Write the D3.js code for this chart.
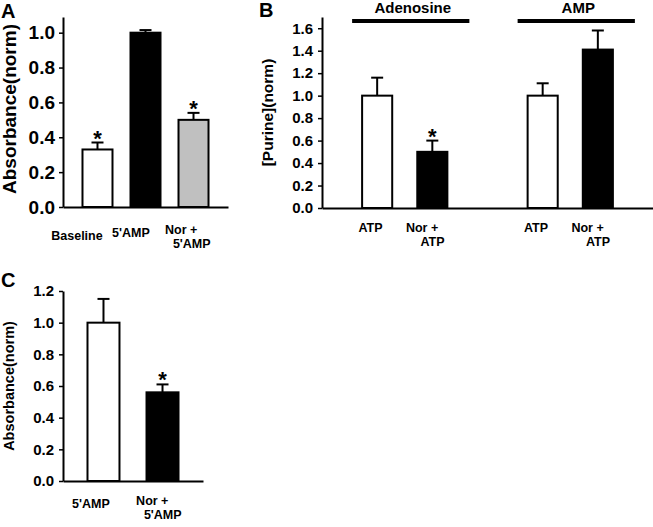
<!DOCTYPE html>
<html>
<head>
<meta charset="utf-8">
<script src="https://cdn.jsdelivr.net/npm/d3@7"></script>
<style>
  html, body { margin: 0; padding: 0; background: #fff; }
  svg { display: block; }
  text { font-family: "Liberation Sans", Arial, Helvetica, sans-serif; font-weight: bold; fill: #000; }
</style>
</head>
<body>
<svg id="chart" width="653" height="527"></svg>
<script>
// ---------- data ----------
const catsA = ["Baseline", "5'AMP", "Nor +\n5'AMP"];
const valsA = [0.33, 1.0, 0.50];
const errA  = [0.04, 0.015, 0.04];
const starA = [true, false, true];
const ticksA = [0, 0.2, 0.4, 0.6, 0.8, 1.0];

const catsB   = ["ATP", "Nor +\nATP", "ATP", "Nor +\nATP"];
const groupsB = ["Adenosine", "Adenosine", "AMP", "AMP"];
const valsB   = [1.0, 0.50, 1.0, 1.41];
const errB    = [0.16, 0.10, 0.11, 0.17];
const starB   = [false, true, false, false];
const ticksB  = [0, 0.2, 0.4, 0.6, 0.8, 1.0, 1.2, 1.4, 1.6];

const catsC = ["5'AMP", "Nor +\n5'AMP"];
const valsC = [1.0, 0.56];
const errC  = [0.15, 0.05];
const starC = [false, true];
const ticksC = [0, 0.2, 0.4, 0.6, 0.8, 1.0, 1.2];

const fillsA = ["#ffffff", "#000000", "#c0c0c0"];
const fillsB = ["#ffffff", "#000000", "#ffffff", "#000000"];
const fillsC = ["#ffffff", "#000000"];

const svg = d3.select("#chart");
const COS = Math.cos(30 * Math.PI / 180), SIN = Math.sin(30 * Math.PI / 180);
const LFS = 12.5;
// rotate an offset by -30 degrees (the slant of the labels in the original)
const R = (ox, oy) => [COS * ox + SIN * oy, -SIN * ox + COS * oy];

function measure(g, str) {
  const t = g.append("text").style("font-size", LFS + "px").attr("opacity", 0).text(str);
  const w = t.node().getComputedTextLength();
  t.remove();
  return w;
}

function panel(opt) {
  const g = svg.append("g");
  const keys = opt.keys;
  const x = d3.scaleBand().domain(keys).range(opt.xr)
      .paddingInner(opt.pi).paddingOuter(opt.po);
  const y = d3.scaleLinear().domain(opt.yd).range(opt.yr);

  const yAx = d3.axisLeft(y).tickValues(opt.ticks).tickFormat(d3.format(".1f"))
      .tickSizeInner(4).tickSizeOuter(0).tickPadding(opt.tp);
  const ya = g.append("g").attr("transform", `translate(${opt.xr[0]},0)`).call(yAx);
  ya.select(".domain").attr("stroke", "#000").attr("stroke-width", 2);
  ya.selectAll(".tick line").attr("stroke", "#000").attr("stroke-width", 1.5);
  ya.selectAll(".tick text").style("font-size", opt.tfs + "px")
      .style("font-family", '"Liberation Sans", Arial, sans-serif').style("font-weight", "bold");

  const realKeys = keys.filter(k => k !== "gap");
  const data = opt.vals.map((v, i) => ({k: realKeys[i], v, e: opt.err[i], s: opt.star[i], c: opt.cats[i], f: opt.fills[i]}));

  // upper error bars + significance stars
  const eb = g.append("g");
  data.forEach(d => {
    const cx = x(d.k) + x.bandwidth() / 2;
    eb.append("line").attr("x1", cx).attr("x2", cx)
      .attr("y1", y(d.v)).attr("y2", y(d.v + d.e)).attr("stroke", "#000").attr("stroke-width", 2);
    eb.append("line").attr("x1", cx - 6).attr("x2", cx + 6)
      .attr("y1", y(d.v + d.e)).attr("y2", y(d.v + d.e)).attr("stroke", "#000").attr("stroke-width", 2);
    if (d.s) {
      eb.append("text").attr("x", cx).attr("y", y(d.v + d.e) + 3)
        .attr("text-anchor", "middle").style("font-size", "22px").text("*");
    }
  });

  // bars
  g.append("g").selectAll("rect").data(data).join("rect")
    .attr("x", d => x(d.k)).attr("width", x.bandwidth())
    .attr("y", d => y(d.v)).attr("height", d => y(0) - y(d.v))
    .attr("fill", d => d.f).attr("stroke", "#000").attr("stroke-width", 2);

  // x axis baseline (no ticks)
  const xAx = d3.axisBottom(x).tickSize(0).tickFormat("");
  const xa = g.append("g").attr("transform", `translate(0,${y(0)})`).call(xAx);
  xa.select(".domain").attr("stroke", "#000").attr("stroke-width", 2);

  // category labels, placed where the slanted originals sit
  const capH = 0.72 * LFS;
  data.forEach(d => {
    const cx = x(d.k) + x.bandwidth() / 2;
    const lines = d.c.split("\n");
    const px = cx + opt.lx, py = y(0) + opt.ly;
    if (lines.length === 1) {
      const W = measure(g, lines[0]);
      const [ox, oy] = R(-W / 2, -capH / 2);
      g.append("text").attr("text-anchor", "middle").style("font-size", LFS + "px")
        .attr("x", px + ox).attr("y", py + oy + capH / 2).text(lines[0]);
    } else {
      const w0 = measure(g, lines[0]);
      const offs = [[-w0 / 2, 0], [-w0 / 2 + 4, 14]];
      const centers = offs.map(([a, b]) => {
        const [qx, qy] = R(a, b);
        const [hx, hy] = R(0, -capH / 2);
        return [px + qx + hx, py + qy + hy];
      });
      const bcy = (centers[0][1] + centers[1][1]) / 2;
      lines.forEach((ln, i) => {
        g.append("text").attr("text-anchor", "middle").style("font-size", LFS + "px")
          .attr("x", centers[i][0]).attr("y", bcy + (i - 0.5) * 14 + capH / 2).text(ln);
      });
    }
  });

  // y title
  const ymid = (opt.yr[0] + opt.yr[1]) / 2;
  g.append("text").attr("transform", `translate(${opt.tx},${opt.ty !== undefined ? opt.ty : ymid}) rotate(-90)`)
    .attr("text-anchor", "middle").style("font-size", opt.ttfs + "px").text(opt.title);

  // panel letter
  g.append("text").attr("x", opt.px).attr("y", opt.py).style("font-size", "20px").text(opt.letter);

  return {g, x, y, data};
}

panel({
  keys: catsA.map((c, i) => "a" + i), cats: catsA, vals: valsA, err: errA, star: starA, fills: fillsA,
  xr: [63, 228], pi: 0.375, po: 0.406, yd: [0, 1.09], yr: [207, 17], ticks: ticksA,
  tfs: 19, tp: 4, ttfs: 19,
  lx: 4, ly: 20, title: "Absorbance(norm)", tx: 16, ty: 109, letter: "A", px: 1, py: 18
});

const keysB = ["b0", "b1", "gap", "b2", "b3"];
const pB = panel({
  keys: keysB, cats: catsB, vals: valsB, err: errB, star: starB, fills: fillsB,
  xr: [322, 653], pi: 0.4545, po: 0.727, yd: [0, 1.70], yr: [208, 17], ticks: ticksB,
  tfs: 15, tp: 5, ttfs: 15.5,
  lx: 6, ly: 17, title: "[Purine](norm)", tx: 273, letter: "B", px: 259, py: 17
});

// group bars above panel B
const groupNames = Array.from(new Set(groupsB));
groupNames.forEach(gn => {
  const members = pB.data.filter((d, i) => groupsB[i] === gn);
  const x1 = pB.x(members[0].k) - 10;
  const x2 = pB.x(members[members.length - 1].k) + pB.x.bandwidth() + 22;
  pB.g.append("line").attr("x1", x1).attr("x2", x2).attr("y1", 21).attr("y2", 21)
    .attr("stroke", "#000").attr("stroke-width", 4);
  pB.g.append("text").attr("x", (x1 + x2) / 2 + 2).attr("y", 13).attr("text-anchor", "middle")
    .style("font-size", "15px").text(gn);
});

panel({
  keys: catsC.map((c, i) => "c" + i), cats: catsC, vals: valsC, err: errC, star: starC, fills: fillsC,
  xr: [63, 203], pi: 0.458, po: 0.415, yd: [0, 1.2], yr: [481, 291], ticks: ticksC,
  tfs: 15, tp: 5, ttfs: 14.5,
  lx: 6, ly: 17, title: "Absorbance(norm)", tx: 14, letter: "C", px: 1, py: 287
});
</script>
</body>
</html>
